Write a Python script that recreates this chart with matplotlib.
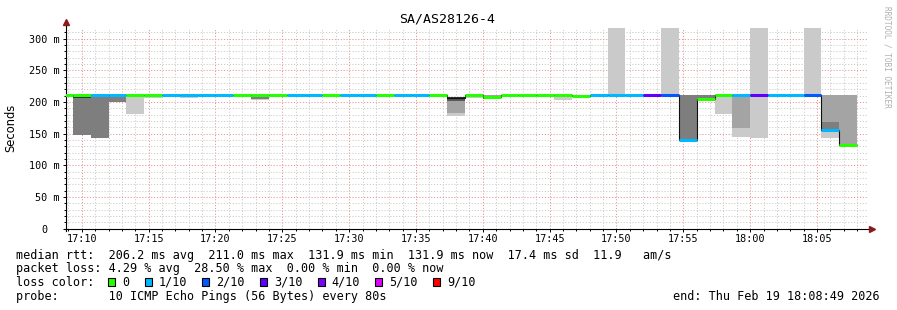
import numpy as np
import matplotlib
matplotlib.use("Agg")
import matplotlib.pyplot as plt
import matplotlib.dates as mdates
from matplotlib.ticker import MultipleLocator, FuncFormatter
from matplotlib.patches import Rectangle
from datetime import datetime, timedelta

plt.rcParams["font.family"] = ["DejaVu Sans Mono"]

# 80s steps, first one starts 17:08:00 (only partly visible)
first_step = datetime(2026, 2, 19, 17, 8, 0)
step_s = 80
view_start = datetime(2026, 2, 19, 17, 8, 49)
view_end = datetime(2026, 2, 19, 18, 8, 49)

# median rtt per step (ms)
median_ms = [211, 211, 211, 211, 211, 211, 211, 211, 211, 211,
             211, 211, 211, 211, 211, 211, 211, 211, 211, 211,
             211, 211, 207, 211, 208, 211, 211, 211, 211, 209,
             211, 211, 211, 211, 211, 139.5, 205.5, 211, 211, 211,
             211, 211, 211, 155.5, 131.9]

# packet loss per step (%), nan = unknown
loss_pct = [0, 0, 5.0, 2.5, 0, 0, 7.5, 2.5, 5.0, 2.5,
            0, 0, 0, 5.0, 7.5, 0, 2.5, 5.0, 0, 2.5,
            5.0, 0, np.nan, 0, 0, 0, 0, 0, 0, 0,
            7.5, 10.0, 5.0, 28.5, 15.0, 10.0, 0, 0, 7.5, 25.0,
            5.0, 2.5, 17.5, 7.5, 0]

# smoke bands: step index, low/high ping (ms), band level (1 = outer, 5 = inner)
smoke_step = [1, 1, 2, 3, 4, 5, 7, 11, 11, 22, 22, 22, 22, 23, 24, 24, 28,
              31, 34, 35, 36, 37, 38, 38, 39, 42, 43, 43, 43, 44]
smoke_lo = [148, 206.5, 143, 200.5, 181, 206, 207, 203, 205.5, 178.5, 183, 201, 205,
            207, 205, 205, 203, 211, 211, 139.5, 205.5, 181, 145, 159, 144, 211,
            143.7, 155.5, 155.5, 132]
smoke_hi = [211, 209, 211, 211, 211, 211, 211, 211, 211, 208.5, 208.5, 208.5, 208.5,
            211, 211, 208, 211, 400, 400, 211, 211, 211, 211, 211, 400, 400,
            211, 211, 169, 211]
smoke_level = [3, 5, 3, 3, 1, 1, 1, 1, 3, 1, 2, 4, 5, 1, 2, 4, 1, 1, 1, 3, 3, 1,
               1, 2, 1, 1, 1, 2, 3, 2]

loss_labels = ["0", "1/10", "2/10", "3/10", "4/10", "5/10", "9/10"]
loss_limits = [0, 1, 2, 3, 4, 5, 9]   # lost pings out of 10
loss_colors = ["#26ff00", "#00b8ff", "#0059ff", "#5e00ff", "#7e00ff", "#dd00ff", "#ff0000"]

smoke_grays = {1: "#cacaca", 2: "#a4a4a4", 3: "#7e7e7e", 4: "#585858", 5: "#323232"}

W, H = 897, 310
fig = plt.figure(figsize=(W / 100, H / 100), dpi=100)
ax = fig.add_axes([66 / W, 1 - 228.7 / H, 802 / W, (228.7 - 27.7) / H])

edges = mdates.date2num([first_step + timedelta(seconds=step_s * i)
                         for i in range(len(median_ms) + 1)])
step_w = step_s / 86400

# smoke
for s, lo, hi, lv in zip(smoke_step, smoke_lo, smoke_hi, smoke_level):
    ax.bar(edges[s], hi - lo, bottom=lo, width=step_w, align="edge",
           color=smoke_grays[lv], linewidth=0, zorder=1 + lv * 0.1)

# black median line
ax.stairs(median_ms, edges, baseline=None, color="#101010", lw=0.8, zorder=3)

# loss coloured median
for i, (m, l) in enumerate(zip(median_ms, loss_pct)):
    if np.isnan(l):
        continue
    lost = l / 10
    c = None
    for j, lim in enumerate(loss_limits):
        if lost <= lim and (j == 0 or lost > loss_limits[j - 1]):
            c = loss_colors[j]
            break
    if c is None:
        continue
    ax.hlines(m, edges[i], edges[i + 1], color=c, lw=2.2, zorder=4, capstyle="butt")

ax.set_xlim(mdates.date2num(view_start), mdates.date2num(view_end))
ax.set_ylim(0, 317.5)
ax.xaxis.set_major_locator(mdates.MinuteLocator(byminute=range(0, 60, 5)))
ax.xaxis.set_minor_locator(mdates.MinuteLocator())
ax.xaxis.set_major_formatter(mdates.DateFormatter("%H:%M"))
ax.yaxis.set_major_locator(MultipleLocator(50))
ax.yaxis.set_minor_locator(MultipleLocator(10))
ax.yaxis.set_major_formatter(FuncFormatter(lambda v, p: "0  " if v == 0 else f"{v:.0f} m"))

ax.grid(which="minor", color="#cdcdcd", ls=(0, (1.2, 1.8)), lw=0.7)
ax.grid(which="major", color="#ee9494", ls=(0, (1.2, 1.8)), lw=0.7)
ax.set_axisbelow(True)

for sp in ax.spines.values():
    sp.set_visible(False)
ax.tick_params(which="both", direction="out", color="black", width=0.7, labelsize=7.3)
ax.tick_params(which="major", length=2)
ax.tick_params(which="minor", length=1.5)
ax.tick_params(axis="x", pad=1.6)
ax.tick_params(axis="y", pad=2.4)

# axes with arrow heads
ax.plot([0, 0], [-0.01, 1.02], transform=ax.transAxes, color="black", lw=0.8, clip_on=False)
ax.plot([-0.003, 1.002], [0, 0], transform=ax.transAxes, color="black", lw=0.8, clip_on=False)
ax.plot([0], [1.026], transform=ax.transAxes, marker="^", ms=4.5, color="#8b1a1a", clip_on=False)
ax.plot([1.0045], [0], transform=ax.transAxes, marker=">", ms=4.5, color="#8b1a1a", clip_on=False)

# titles
fig.text(447.5 / W, 1 - 19 / H, "SA/AS28126-4", ha="center", va="center", fontsize=9.5)
fig.text(11 / W, 1 - 128 / H, "Seconds", rotation=90, ha="center", va="center",
         fontsize=8.3, family="DejaVu Sans")
fig.text(886.5 / W, 1 - 57 / H, "RRDTOOL / TOBI OETIKER", rotation=270, ha="center",
         va="center", fontsize=5.6, color="#b0b0b0")

# legend text
cw = 7.08
fs = 8.45
rows = [
    "median rtt:  206.2 ms avg  211.0 ms max  131.9 ms min  131.9 ms now  17.4 ms sd  11.9   am/s",
    "packet loss: 4.29 % avg  28.50 % max  0.00 % min  0.00 % now",
    "loss color:",
    "probe:       10 ICMP Echo Pings (56 Bytes) every 80s",
]
row_y = [255, 268.5, 282.3, 296.3]
for txt, y in zip(rows, row_y):
    fig.text(16 / W, 1 - y / H, txt, ha="left", va="center", fontsize=fs)

col = 13.0
for lab, c in zip(loss_labels, loss_colors):
    x = 16 + col * cw
    fig.add_artist(Rectangle((x / W, 1 - 285.5 / H), 7 / W, 7.5 / H, transform=fig.transFigure,
                             facecolor=c, edgecolor="black", lw=0.8))
    fig.text((16 + (col + 2.0) * cw) / W, 1 - row_y[2] / H, lab, ha="left", va="center", fontsize=fs)
    col = col + 2.0 + len(lab) + 2.15

fig.text(880 / W, 1 - row_y[3] / H, "end: Thu Feb 19 18:08:49 2026", ha="right", va="center", fontsize=fs)

fig.savefig("out.png", dpi=100, facecolor="white")
